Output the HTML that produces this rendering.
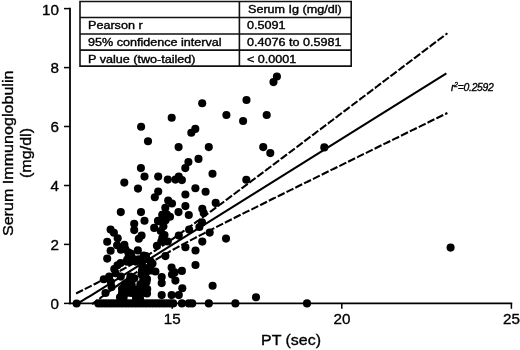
<!DOCTYPE html>
<html><head><meta charset="utf-8"><title>Serum Immunoglobulin vs PT</title>
<style>
html,body{margin:0;padding:0;background:#fff;}
body{width:520px;height:350px;position:relative;overflow:hidden;font-family:"Liberation Sans",sans-serif;color:#000;filter:blur(0.35px);}
.t{position:absolute;white-space:nowrap;line-height:1;-webkit-text-stroke:0.35px #000;}
.yl{font-size:15.2px;text-align:right;width:40px;left:19px;}
.xl{font-size:15.2px;text-align:center;width:40px;}
.tb{position:absolute;border:0 solid #1a1a1a;}
.c{position:absolute;white-space:nowrap;line-height:1;font-size:10.1px;transform-origin:0 0;transform:scaleX(1.247);color:#000;-webkit-text-stroke:0.35px #000;}
.rot{left:0;top:0;font-size:14px;transform-origin:0 0;width:200px;text-align:center;}
</style></head><body>
<svg width="520" height="350" viewBox="0 0 520 350" style="position:absolute;left:0;top:0">
<g stroke="#000" stroke-width="1.8" fill="none">
<path d="M70 7.8V304.3"/>
<path d="M69 303.4H512.2"/>
</g><g stroke="#000" stroke-width="1.5" fill="none">
<path d="M64 303.4H70"/>
<path d="M64 244.4H70"/>
<path d="M64 185.5H70"/>
<path d="M64 126.5H70"/>
<path d="M64 67.6H70"/>
<path d="M64 8.6H70"/>
<path d="M172.2 303V308.8"/>
<path d="M341.8 303V308.8"/>
<path d="M511.4 303V308.8"/>
</g>
<g stroke="#111" stroke-width="1.6" fill="none"><path d="M80 1.55H351.2V66.1H80Z"/><path d="M80 17.5H351.2M80 34H351.2M80 50.1H351.2M239.4 1.55V66.1"/></g>
<g fill="#000">
<circle cx="141.1" cy="126.8" r="4.05"/>
<circle cx="171.7" cy="117.8" r="4.05"/>
<circle cx="148.0" cy="141.3" r="4.05"/>
<circle cx="195.3" cy="128.9" r="4.05"/>
<circle cx="191.3" cy="132.8" r="4.05"/>
<circle cx="178.6" cy="147.1" r="4.05"/>
<circle cx="198.5" cy="158.9" r="4.05"/>
<circle cx="188.4" cy="162.1" r="4.05"/>
<circle cx="185.3" cy="168.1" r="4.05"/>
<circle cx="140.9" cy="168.1" r="4.05"/>
<circle cx="276.9" cy="76.5" r="4.05"/>
<circle cx="273.5" cy="82.1" r="4.05"/>
<circle cx="202.2" cy="103.3" r="4.05"/>
<circle cx="246.5" cy="100.0" r="4.05"/>
<circle cx="226.4" cy="115.0" r="4.05"/>
<circle cx="243.1" cy="121.0" r="4.05"/>
<circle cx="266.7" cy="115.0" r="4.05"/>
<circle cx="208.8" cy="147.1" r="4.05"/>
<circle cx="263.2" cy="147.1" r="4.05"/>
<circle cx="270.3" cy="153.1" r="4.05"/>
<circle cx="212.5" cy="173.8" r="4.05"/>
<circle cx="246.3" cy="179.7" r="4.05"/>
<circle cx="195.4" cy="188.3" r="4.05"/>
<circle cx="205.6" cy="191.7" r="4.05"/>
<circle cx="215.7" cy="202.9" r="4.05"/>
<circle cx="144.5" cy="176.6" r="4.05"/>
<circle cx="158.2" cy="176.6" r="4.05"/>
<circle cx="167.8" cy="179.6" r="4.05"/>
<circle cx="124.3" cy="182.6" r="4.05"/>
<circle cx="138.0" cy="188.6" r="4.05"/>
<circle cx="158.2" cy="191.6" r="4.05"/>
<circle cx="154.8" cy="197.2" r="4.05"/>
<circle cx="168.2" cy="200.6" r="4.05"/>
<circle cx="120.8" cy="212.1" r="4.05"/>
<circle cx="141.0" cy="212.1" r="4.05"/>
<circle cx="144.5" cy="220.8" r="4.05"/>
<circle cx="134.2" cy="223.8" r="4.05"/>
<circle cx="165.3" cy="207.8" r="4.05"/>
<circle cx="162.5" cy="214.7" r="4.05"/>
<circle cx="158.5" cy="221.3" r="4.05"/>
<circle cx="175.4" cy="179.6" r="4.05"/>
<circle cx="178.8" cy="176.6" r="4.05"/>
<circle cx="181.9" cy="180.1" r="4.05"/>
<circle cx="185.4" cy="194.5" r="4.05"/>
<circle cx="172.0" cy="203.5" r="4.05"/>
<circle cx="185.4" cy="206.1" r="4.05"/>
<circle cx="202.3" cy="208.7" r="4.05"/>
<circle cx="203.7" cy="213.0" r="4.05"/>
<circle cx="178.5" cy="212.1" r="4.05"/>
<circle cx="188.8" cy="215.0" r="4.05"/>
<circle cx="202.0" cy="222.4" r="4.05"/>
<circle cx="324.3" cy="147.4" r="4.05"/>
<circle cx="450.6" cy="247.6" r="4.05"/>
<circle cx="307.0" cy="303.4" r="4.05"/>
<circle cx="110.6" cy="229.6" r="4.05"/>
<circle cx="113.9" cy="232.8" r="4.05"/>
<circle cx="117.7" cy="238.3" r="4.05"/>
<circle cx="107.2" cy="241.7" r="4.05"/>
<circle cx="117.1" cy="245.3" r="4.05"/>
<circle cx="124.4" cy="244.8" r="4.05"/>
<circle cx="120.9" cy="249.7" r="4.05"/>
<circle cx="125.3" cy="249.1" r="4.05"/>
<circle cx="110.6" cy="250.7" r="4.05"/>
<circle cx="137.8" cy="250.4" r="4.05"/>
<circle cx="130.7" cy="253.5" r="4.05"/>
<circle cx="107.2" cy="258.6" r="4.05"/>
<circle cx="134.2" cy="230.1" r="4.05"/>
<circle cx="141.6" cy="235.6" r="4.05"/>
<circle cx="138.8" cy="238.8" r="4.05"/>
<circle cx="143.7" cy="255.6" r="4.05"/>
<circle cx="131.8" cy="257.8" r="4.05"/>
<circle cx="199.4" cy="227.0" r="4.05"/>
<circle cx="189.1" cy="229.6" r="4.05"/>
<circle cx="178.8" cy="235.6" r="4.05"/>
<circle cx="226.0" cy="238.6" r="4.05"/>
<circle cx="209.7" cy="232.6" r="4.05"/>
<circle cx="202.3" cy="241.6" r="4.05"/>
<circle cx="185.4" cy="247.2" r="4.05"/>
<circle cx="195.5" cy="250.5" r="4.05"/>
<circle cx="195.5" cy="265.0" r="4.05"/>
<circle cx="171.6" cy="267.5" r="4.05"/>
<circle cx="181.9" cy="270.9" r="4.05"/>
<circle cx="172.0" cy="274.6" r="4.05"/>
<circle cx="174.6" cy="272.4" r="4.05"/>
<circle cx="161.7" cy="277.1" r="4.05"/>
<circle cx="175.4" cy="280.6" r="4.05"/>
<circle cx="161.7" cy="283.1" r="4.05"/>
<circle cx="212.6" cy="285.7" r="4.05"/>
<circle cx="182.3" cy="288.3" r="4.05"/>
<circle cx="178.8" cy="295.1" r="4.05"/>
<circle cx="171.6" cy="295.1" r="4.05"/>
<circle cx="161.7" cy="295.1" r="4.05"/>
<circle cx="181.9" cy="303.4" r="4.05"/>
<circle cx="188.8" cy="303.4" r="4.05"/>
<circle cx="192.2" cy="303.4" r="4.05"/>
<circle cx="208.8" cy="303.4" r="4.05"/>
<circle cx="235.4" cy="303.4" r="4.05"/>
<circle cx="256.0" cy="297.3" r="4.05"/>
<circle cx="76.6" cy="303.5" r="4.05"/>
<circle cx="165.4" cy="256.1" r="4.05"/>
<circle cx="166.7" cy="214.3" r="4.05"/>
<circle cx="162.4" cy="214.9" r="4.05"/>
<circle cx="158.0" cy="220.8" r="4.05"/>
<circle cx="165.6" cy="220.3" r="4.05"/>
<circle cx="154.2" cy="227.9" r="4.05"/>
<circle cx="163.4" cy="226.3" r="4.05"/>
<circle cx="160.8" cy="231.0" r="4.05"/>
<circle cx="164.5" cy="235.0" r="4.05"/>
<circle cx="161.3" cy="241.5" r="4.05"/>
<circle cx="167.8" cy="241.5" r="4.05"/>
<circle cx="156.9" cy="245.8" r="4.05"/>
<circle cx="162.3" cy="238.0" r="4.05"/>
<circle cx="170.0" cy="216.8" r="4.05"/>
<circle cx="98.3" cy="303.4" r="4.05"/>
<circle cx="101.7" cy="303.4" r="4.05"/>
<circle cx="105.1" cy="303.4" r="4.05"/>
<circle cx="108.5" cy="303.4" r="4.05"/>
<circle cx="111.9" cy="303.4" r="4.05"/>
<circle cx="115.3" cy="303.4" r="4.05"/>
<circle cx="118.7" cy="303.4" r="4.05"/>
<circle cx="122.1" cy="303.4" r="4.05"/>
<circle cx="125.5" cy="303.4" r="4.05"/>
<circle cx="128.9" cy="303.4" r="4.05"/>
<circle cx="132.3" cy="303.4" r="4.05"/>
<circle cx="135.8" cy="303.4" r="4.05"/>
<circle cx="139.2" cy="303.4" r="4.05"/>
<circle cx="142.6" cy="303.4" r="4.05"/>
<circle cx="146.0" cy="303.4" r="4.05"/>
<circle cx="149.4" cy="303.4" r="4.05"/>
<circle cx="152.8" cy="303.4" r="4.05"/>
<circle cx="156.2" cy="303.4" r="4.05"/>
<circle cx="159.6" cy="303.4" r="4.05"/>
<circle cx="163.0" cy="303.4" r="4.05"/>
<circle cx="166.4" cy="303.4" r="4.05"/>
<circle cx="169.8" cy="303.4" r="4.05"/>
<circle cx="173.2" cy="303.4" r="4.05"/>
<circle cx="103.8" cy="279.2" r="4.05"/>
<circle cx="109.2" cy="276.5" r="4.05"/>
<circle cx="110.9" cy="282.0" r="4.05"/>
<circle cx="111.6" cy="287.1" r="4.05"/>
<circle cx="105.5" cy="293.0" r="4.05"/>
<circle cx="114.3" cy="269.0" r="4.05"/>
<circle cx="115.6" cy="273.3" r="4.05"/>
<circle cx="120.6" cy="263.0" r="4.05"/>
<circle cx="120.8" cy="276.6" r="4.05"/>
<circle cx="127.1" cy="259.8" r="4.05"/>
<circle cx="131.5" cy="256.5" r="4.05"/>
<circle cx="128.8" cy="256.3" r="4.05"/>
<circle cx="132.6" cy="260.6" r="4.05"/>
<circle cx="127.2" cy="261.7" r="4.05"/>
<circle cx="128.2" cy="252.2" r="4.05"/>
<circle cx="138.5" cy="259.3" r="4.05"/>
<circle cx="117.5" cy="265.2" r="4.05"/>
<circle cx="135.8" cy="261.6" r="4.05"/>
<circle cx="122.0" cy="293.0" r="4.05"/>
<circle cx="126.5" cy="293.0" r="4.05"/>
<circle cx="131.0" cy="293.0" r="4.05"/>
<circle cx="135.5" cy="293.0" r="4.05"/>
<circle cx="140.0" cy="293.0" r="4.05"/>
<circle cx="144.5" cy="293.0" r="4.05"/>
<circle cx="147.0" cy="293.5" r="4.05"/>
<circle cx="122.0" cy="288.7" r="4.05"/>
<circle cx="126.5" cy="288.7" r="4.05"/>
<circle cx="131.0" cy="288.7" r="4.05"/>
<circle cx="135.8" cy="289.2" r="4.05"/>
<circle cx="140.3" cy="288.7" r="4.05"/>
<circle cx="144.8" cy="288.7" r="4.05"/>
<circle cx="147.2" cy="289.0" r="4.05"/>
<circle cx="124.5" cy="284.2" r="4.05"/>
<circle cx="128.5" cy="284.2" r="4.05"/>
<circle cx="131.6" cy="284.2" r="4.05"/>
<circle cx="140.4" cy="284.2" r="4.05"/>
<circle cx="145.0" cy="284.0" r="4.05"/>
<circle cx="146.5" cy="282.0" r="4.05"/>
<circle cx="130.0" cy="279.7" r="4.05"/>
<circle cx="134.3" cy="278.3" r="4.05"/>
<circle cx="143.3" cy="279.7" r="4.05"/>
<circle cx="147.0" cy="279.0" r="4.05"/>
<circle cx="130.4" cy="276.5" r="4.05"/>
<circle cx="141.5" cy="274.5" r="4.05"/>
<circle cx="145.0" cy="275.5" r="4.05"/>
<circle cx="136.0" cy="298.0" r="4.05"/>
<circle cx="140.0" cy="298.5" r="4.05"/>
<circle cx="120.0" cy="297.3" r="4.05"/>
<circle cx="123.6" cy="297.8" r="4.05"/>
<circle cx="146.4" cy="259.0" r="4.05"/>
<circle cx="150.5" cy="261.4" r="4.05"/>
<circle cx="150.5" cy="266.0" r="4.05"/>
<circle cx="146.4" cy="268.3" r="4.05"/>
<circle cx="142.3" cy="266.0" r="4.05"/>
<circle cx="142.3" cy="261.3" r="4.05"/>
<circle cx="146.0" cy="256.0" r="4.05"/>
<circle cx="152.5" cy="263.5" r="4.05"/>
<circle cx="146.5" cy="271.8" r="4.05"/>
<circle cx="155.4" cy="271.5" r="4.05"/>
<circle cx="151.0" cy="270.5" r="4.05"/>
<circle cx="142.0" cy="270.5" r="4.05"/>
</g>
<g fill="none" stroke-linecap="butt">
<path d="M446.4 73.4 L442.4 75.9 L438.4 78.4 L434.4 80.9 L430.4 83.4 L426.4 85.9 L422.4 88.4 L418.4 90.9 L414.4 93.4 L410.4 95.9 L406.4 98.4 L402.4 100.9 L398.4 103.4 L394.4 105.9 L390.4 108.4 L386.4 110.9 L382.4 113.4 L378.4 115.9 L374.4 118.4 L370.4 120.9 L366.4 123.4 L362.4 125.9 L358.4 128.4 L354.4 130.9 L350.4 133.4 L346.4 135.9 L342.4 138.4 L338.4 140.9 L334.4 143.4 L330.4 145.9 L326.4 148.4 L322.4 150.9 L318.4 153.4 L314.4 155.9 L310.4 158.4 L306.4 160.9 L302.4 163.4 L298.4 165.9 L294.4 168.4 L290.4 170.9 L286.4 173.3 L282.4 175.8 L278.4 178.3 L274.4 180.8 L270.4 183.3 L266.4 185.8 L262.4 188.3 L258.4 190.8 L254.4 193.3 L250.4 195.8 L246.4 198.3 L242.4 200.8 L238.4 203.3 L234.4 205.8 L230.4 208.3 L226.4 210.8 L222.4 213.3 L218.4 215.8 L214.4 218.3 L210.4 220.8 L206.4 223.3 L202.4 225.8 L198.4 228.3 L194.4 230.8 L190.4 233.3 L186.4 235.8 L182.4 238.3 L178.4 240.8 L174.4 243.3 L170.4 245.8 L166.4 248.3 L162.4 250.8 L158.4 253.3 L154.4 255.8 L150.4 258.3 L146.4 260.8 L142.4 263.3 L138.4 265.8 L134.4 268.3 L130.4 270.8 L126.4 273.3 L122.4 275.8 L118.4 278.3 L114.4 280.8 L110.4 283.3 L106.4 285.8 L102.4 288.3 L98.4 290.8 L94.4 293.3 L90.4 295.8 L86.4 298.2 L82.4 300.7 L78.4 303.2 L78.3 303.3" stroke="#000" stroke-width="2.1"/>
<path d="M447.4 33.2 L446.4 34.0 L445.4 34.7 M443.7 36.0 L442.7 36.8 L441.7 37.5 L440.7 38.3 L439.7 39.0 L438.7 39.8 L437.7 40.6 L437.5 40.7 M435.9 41.9 L434.9 42.7 L433.9 43.4 L432.9 44.2 L431.9 44.9 L430.9 45.7 L429.9 46.5 L429.7 46.6 M428.0 47.9 L427.0 48.7 L426.0 49.4 L425.0 50.2 L424.0 50.9 L423.0 51.7 L422.0 52.4 L421.9 52.5 M420.2 53.8 L419.2 54.6 L418.2 55.3 L417.2 56.1 L416.2 56.8 L415.2 57.6 L414.2 58.3 L414.0 58.5 M412.4 59.7 L411.4 60.5 L410.4 61.2 L409.4 62.0 L408.4 62.7 L407.4 63.5 L406.4 64.2 L406.2 64.4 M404.5 65.7 L403.5 66.4 L402.5 67.2 L401.5 67.9 L400.5 68.7 L399.5 69.5 L398.5 70.2 L398.4 70.3 M396.7 71.6 L395.7 72.3 L394.7 73.1 L393.7 73.8 L392.7 74.6 L391.7 75.3 L390.7 76.1 L390.5 76.3 M388.9 77.5 L387.9 78.2 L386.9 79.0 L385.9 79.7 L384.9 80.5 L383.9 81.2 L382.9 82.0 L382.7 82.2 M381.0 83.4 L380.0 84.2 L379.0 84.9 L378.0 85.7 L377.0 86.5 L376.0 87.2 L375.0 88.0 L374.9 88.0 M373.2 89.3 L372.2 90.1 L371.2 90.8 L370.2 91.6 L369.2 92.4 L368.2 93.1 L367.2 93.9 L367.0 94.0 M365.4 95.2 L364.4 96.0 L363.4 96.7 L362.4 97.5 L361.4 98.2 L360.4 99.0 L359.4 99.8 L359.2 99.9 M357.5 101.2 L356.5 102.0 L355.5 102.7 L354.5 103.5 L353.5 104.2 L352.5 105.0 L351.5 105.7 L351.4 105.8 M349.7 107.1 L348.7 107.8 L347.7 108.6 L346.7 109.4 L345.7 110.1 L344.7 110.9 L343.7 111.6 L343.5 111.8 M341.9 113.0 L340.9 113.7 L339.9 114.5 L338.9 115.2 L337.9 116.0 L336.9 116.8 L335.9 117.5 L335.7 117.7 M334.0 118.9 L333.0 119.7 L332.0 120.5 L331.0 121.2 L330.0 122.0 L329.0 122.7 L328.0 123.5 L327.9 123.5 M326.2 124.8 L325.2 125.6 L324.2 126.3 L323.2 127.1 L322.2 127.9 L321.2 128.6 L320.2 129.4 L320.0 129.5 M318.3 130.8 L317.3 131.5 L316.3 132.3 L315.3 133.1 L314.3 133.8 L313.3 134.6 L312.3 135.3 L312.2 135.4 M310.5 136.7 L309.5 137.4 L308.5 138.2 L307.5 138.9 L306.5 139.7 L305.5 140.4 L304.5 141.2 L304.3 141.4 M302.7 142.6 L301.7 143.3 L300.7 144.1 L299.7 144.8 L298.7 145.6 L297.7 146.3 L296.7 147.1 L296.5 147.2 M294.8 148.5 L293.8 149.3 L292.8 150.0 L291.8 150.8 L290.8 151.5 L289.8 152.3 L288.8 153.0 L288.7 153.1 M287.0 154.4 L286.0 155.1 L285.0 155.9 L284.0 156.6 L283.0 157.4 L282.0 158.2 L281.0 158.9 L280.8 159.1 M279.1 160.3 L278.1 161.1 L277.1 161.8 L276.1 162.6 L275.1 163.3 L274.1 164.1 L273.1 164.8 L273.0 164.9 M271.3 166.2 L270.3 167.0 L269.3 167.7 L268.3 168.5 L267.3 169.2 L266.3 170.0 L265.3 170.7 L265.1 170.9 M263.4 172.1 L262.4 172.9 L261.4 173.6 L260.4 174.4 L259.4 175.1 L258.4 175.9 L257.4 176.6 L257.3 176.7 M255.6 178.0 L254.6 178.7 L253.6 179.5 L252.6 180.2 L251.6 181.0 L250.6 181.7 L249.6 182.5 L249.4 182.6 M247.7 183.9 L246.7 184.7 L245.7 185.4 L244.7 186.2 L243.7 186.9 L242.7 187.7 L241.7 188.4 L241.5 188.6 M239.9 189.7 L238.9 190.5 L237.9 191.2 L236.9 192.0 L235.9 192.7 L234.9 193.5 L233.9 194.2 L233.7 194.4 M232.0 195.6 L231.0 196.4 L230.0 197.1 L229.0 197.9 L228.0 198.6 L227.0 199.4 L226.0 200.1 L225.8 200.3 M224.1 201.5 L223.1 202.3 L222.1 203.0 L221.1 203.8 L220.1 204.5 L219.1 205.2 L218.1 206.0 L217.9 206.1 M216.2 207.4 L215.2 208.1 L214.2 208.9 L213.2 209.6 L212.2 210.4 L211.2 211.1 L210.2 211.8 L210.0 212.0 M208.3 213.2 L207.3 214.0 L206.3 214.7 L205.3 215.4 L204.3 216.2 L203.3 216.9 L202.3 217.6 L202.1 217.8 M200.4 219.0 L199.4 219.8 L198.4 220.5 L197.4 221.2 L196.4 221.9 L195.4 222.7 L194.4 223.4 L194.2 223.5 M192.5 224.8 L191.5 225.5 L190.5 226.2 L189.5 226.9 L188.5 227.7 L187.5 228.4 L186.5 229.1 L186.2 229.3 M184.5 230.5 L183.5 231.2 L182.5 231.9 L181.5 232.7 L180.5 233.4 L179.5 234.1 L178.5 234.8 L178.2 235.0 M176.5 236.2 L175.5 236.9 L174.5 237.6 L173.5 238.3 L172.5 239.0 L171.5 239.6 L170.5 240.3 L170.1 240.6 M168.4 241.8 L167.4 242.4 L166.4 243.1 L165.4 243.8 L164.4 244.5 L163.4 245.1 L162.4 245.8 L162.0 246.1 M160.2 247.2 L159.2 247.9 L158.2 248.5 L157.2 249.2 L156.2 249.8 L155.2 250.5 L154.2 251.1 L153.7 251.4 M151.9 252.5 L150.9 253.2 L149.9 253.8 L148.9 254.4 L147.9 255.0 L146.9 255.6 L145.9 256.2 L145.4 256.5 M143.6 257.6 L142.6 258.2 L141.6 258.8 L140.6 259.4 L139.6 259.9 L138.6 260.5 L137.6 261.1 L136.9 261.5 M135.1 262.5 L134.1 263.1 L133.1 263.7 L132.1 264.2 L131.1 264.8 L130.1 265.3 L129.1 265.9 L128.3 266.3 M126.5 267.3 L125.5 267.9 L124.5 268.4 L123.5 269.0 L122.5 269.5 L121.5 270.0 L120.5 270.6 L119.7 271.0 M117.8 272.0 L116.8 272.6 L115.8 273.1 L114.8 273.6 L113.8 274.1 L112.8 274.7 L111.8 275.2 L111.0 275.6 M109.2 276.6 L108.2 277.1 L107.2 277.6 L106.2 278.1 L105.2 278.6 L104.2 279.2 L103.2 279.7 L102.3 280.1 M100.4 281.1 L99.4 281.6 L98.4 282.2 L97.4 282.7 L96.4 283.2 L95.4 283.7 L94.4 284.2 L93.6 284.6 M91.7 285.6 L90.7 286.1 L89.7 286.6 L88.7 287.1 L87.7 287.6 L86.7 288.1 L85.7 288.6 L84.8 289.1 M83.0 290.0 L82.0 290.5 L81.0 291.0 L80.0 291.5 L79.0 292.0 L78.0 292.5 L77.0 293.0 L76.1 293.5" stroke="#000" stroke-width="2.1"/>
<path d="M447.4 113.0 L446.4 113.5 L445.4 114.0 L445.1 114.1 M443.2 115.0 L442.2 115.5 L441.2 116.0 L440.2 116.5 L439.2 117.0 L438.2 117.5 L437.2 118.0 L436.3 118.4 M434.4 119.3 L433.4 119.8 L432.4 120.3 L431.4 120.8 L430.4 121.3 L429.4 121.8 L428.4 122.3 L427.5 122.7 M425.6 123.7 L424.6 124.2 L423.6 124.6 L422.6 125.1 L421.6 125.6 L420.6 126.1 L419.6 126.6 L418.7 127.0 M416.8 128.0 L415.8 128.5 L414.8 129.0 L413.8 129.5 L412.8 129.9 L411.8 130.4 L410.8 130.9 L409.8 131.4 M408.0 132.3 L407.0 132.8 L406.0 133.3 L405.0 133.8 L404.0 134.3 L403.0 134.8 L402.0 135.2 L401.0 135.7 M399.1 136.7 L398.1 137.2 L397.1 137.7 L396.1 138.1 L395.1 138.6 L394.1 139.1 L393.1 139.6 L392.2 140.1 M390.3 141.0 L389.3 141.5 L388.3 142.0 L387.3 142.5 L386.3 143.0 L385.3 143.4 L384.3 143.9 L383.4 144.4 M381.5 145.3 L380.5 145.8 L379.5 146.3 L378.5 146.8 L377.5 147.3 L376.5 147.8 L375.5 148.3 L374.6 148.7 M372.7 149.6 L371.7 150.1 L370.7 150.6 L369.7 151.1 L368.7 151.6 L367.7 152.1 L366.7 152.6 L365.8 153.0 M363.9 154.0 L362.9 154.4 L361.9 154.9 L360.9 155.4 L359.9 155.9 L358.9 156.4 L357.9 156.9 L357.0 157.3 M355.1 158.3 L354.1 158.8 L353.1 159.3 L352.1 159.8 L351.1 160.2 L350.1 160.7 L349.1 161.2 L348.1 161.7 M346.3 162.6 L345.3 163.1 L344.3 163.6 L343.3 164.1 L342.3 164.6 L341.3 165.1 L340.3 165.6 L339.3 166.0 M337.4 167.0 L336.4 167.5 L335.4 168.0 L334.4 168.5 L333.4 169.0 L332.4 169.4 L331.4 169.9 L330.5 170.4 M328.6 171.3 L327.6 171.8 L326.6 172.3 L325.6 172.8 L324.6 173.3 L323.6 173.8 L322.6 174.3 L321.7 174.7 M319.8 175.6 L318.8 176.1 L317.8 176.6 L316.8 177.1 L315.8 177.6 L314.8 178.1 L313.8 178.6 L312.9 179.0 M311.0 180.0 L310.0 180.5 L309.0 181.0 L308.0 181.5 L307.0 182.0 L306.0 182.4 L305.0 182.9 L304.1 183.4 M302.2 184.3 L301.2 184.8 L300.2 185.3 L299.2 185.8 L298.2 186.3 L297.2 186.8 L296.2 187.3 L295.3 187.7 M293.4 188.7 L292.4 189.2 L291.4 189.6 L290.4 190.1 L289.4 190.6 L288.4 191.1 L287.4 191.6 L286.5 192.1 M284.6 193.0 L283.6 193.5 L282.6 194.0 L281.6 194.5 L280.6 195.0 L279.6 195.5 L278.6 196.0 L277.7 196.4 M275.8 197.4 L274.8 197.9 L273.8 198.3 L272.8 198.8 L271.8 199.3 L270.8 199.8 L269.8 200.3 L268.9 200.8 M267.0 201.7 L266.0 202.2 L265.0 202.7 L264.0 203.2 L263.0 203.7 L262.0 204.2 L261.0 204.7 L260.1 205.1 M258.2 206.1 L257.2 206.6 L256.2 207.1 L255.2 207.6 L254.2 208.1 L253.2 208.6 L252.2 209.1 L251.3 209.5 M249.4 210.5 L248.4 211.0 L247.4 211.4 L246.4 211.9 L245.4 212.4 L244.4 212.9 L243.4 213.4 L242.5 213.9 M240.6 214.8 L239.6 215.3 L238.6 215.8 L237.6 216.3 L236.6 216.8 L235.6 217.3 L234.6 217.8 L233.7 218.3 M231.8 219.2 L230.8 219.7 L229.8 220.2 L228.8 220.7 L227.8 221.2 L226.8 221.7 L225.8 222.3 L224.9 222.7 M223.1 223.6 L222.1 224.1 L221.1 224.6 L220.1 225.1 L219.1 225.6 L218.1 226.1 L217.1 226.6 L216.2 227.1 M214.3 228.1 L213.3 228.6 L212.3 229.1 L211.3 229.6 L210.3 230.1 L209.3 230.6 L208.3 231.1 L207.4 231.6 M205.5 232.5 L204.5 233.1 L203.5 233.6 L202.5 234.1 L201.5 234.6 L200.5 235.1 L199.5 235.6 L198.7 236.0 M196.8 237.0 L195.8 237.5 L194.8 238.1 L193.8 238.6 L192.8 239.1 L191.8 239.6 L190.8 240.2 L190.0 240.6 M188.1 241.6 L187.1 242.1 L186.1 242.6 L185.1 243.2 L184.1 243.7 L183.1 244.2 L182.1 244.8 L181.3 245.2 M179.4 246.2 L178.4 246.8 L177.4 247.3 L176.4 247.9 L175.4 248.4 L174.4 249.0 L173.4 249.5 L172.7 249.9 M170.8 251.0 L169.8 251.5 L168.8 252.1 L167.8 252.7 L166.8 253.2 L165.8 253.8 L164.8 254.4 L164.2 254.7 M162.3 255.8 L161.3 256.4 L160.3 257.0 L159.3 257.6 L158.3 258.2 L157.3 258.8 L156.3 259.4 L155.7 259.8 M153.9 260.9 L152.9 261.5 L151.9 262.1 L150.9 262.8 L149.9 263.4 L148.9 264.0 L147.9 264.7 L147.4 265.0 M145.6 266.2 L144.6 266.8 L143.6 267.5 L142.6 268.1 L141.6 268.8 L140.6 269.4 L139.6 270.1 L139.2 270.4 M137.4 271.6 L136.4 272.3 L135.4 272.9 L134.4 273.6 L133.4 274.3 L132.4 275.0 L131.4 275.7 L131.1 275.9 M129.3 277.2 L128.3 277.9 L127.3 278.6 L126.3 279.3 L125.3 280.0 L124.3 280.7 L123.3 281.4 L123.0 281.6 M121.3 282.8 L120.3 283.5 L119.3 284.2 L118.3 284.9 L117.3 285.7 L116.3 286.4 L115.3 287.1 L115.1 287.2 M113.3 288.5 L112.3 289.3 L111.3 290.0 L110.3 290.7 L109.3 291.4 L108.3 292.2 L107.3 292.9 L107.1 293.1 M105.4 294.3 L104.4 295.0 L103.4 295.8 L102.4 296.5 L101.4 297.2 L100.4 298.0 L99.4 298.7 L99.2 298.8 M97.5 300.1 L96.5 300.8 L95.5 301.6 L94.5 302.3 L93.5 303.1 L92.5 303.8 L92.0 304.2" stroke="#000" stroke-width="2.1"/>
</g>
<g fill="#000">
</g>
</svg>
<div class="t yl" style="top:1.6px">10</div>
<div class="t yl" style="top:60.2px">8</div>
<div class="t yl" style="top:119.1px">6</div>
<div class="t yl" style="top:178.1px">4</div>
<div class="t yl" style="top:237.1px">2</div>
<div class="t yl" style="top:296.2px">0</div>
<div class="t xl" style="left:152.2px;top:311.4px">15</div>
<div class="t xl" style="left:322px;top:311.4px">20</div>
<div class="t xl" style="left:491.5px;top:311.4px">25</div>
<div class="t" style="left:261px;top:332.8px;font-size:14.5px;transform-origin:0 0;transform:scaleX(1.1)">PT (sec)</div>
<div class="t rot" style="transform:translate(0.5px,268.3px) rotate(-90deg) scaleX(1.15);">Serum Immunoglobulin</div>
<div class="t rot" style="transform:translate(19px,268px) rotate(-90deg) scaleX(1.15);">(mg/dl)</div>
<div class="t" style="left:451px;top:83.1px;font-size:10.4px;font-style:italic;letter-spacing:-0.3px;">r<span style="font-size:6.5px;position:relative;top:-4px;letter-spacing:0">2</span>=0.2592</div>
<!-- table -->
<div class="c" style="left:248.4px;top:5.2px">Serum Ig (mg/dl)</div>
<div class="c" style="left:88px;top:21.4px">Pearson r</div>
<div class="c" style="left:246.6px;top:21.4px">0.5091</div>
<div class="c" style="left:88.2px;top:38.1px">95% confidence interval</div>
<div class="c" style="left:246.6px;top:38.1px">0.4076 to 0.5981</div>
<div class="c" style="left:88px;top:54.5px">P value (two-tailed)</div>
<div class="c" style="left:246.6px;top:54.5px">&lt; 0.0001</div>
</body></html>
